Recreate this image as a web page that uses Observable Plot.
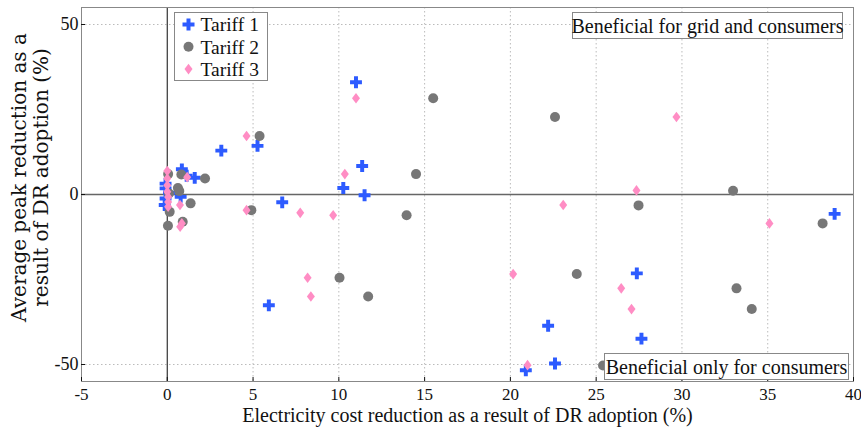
<!DOCTYPE html>
<html><head><meta charset="utf-8">
<script src="https://cdn.jsdelivr.net/npm/d3@7"></script>
<script src="https://cdn.jsdelivr.net/npm/@observablehq/plot@0.6"></script>
<style>
body{margin:0;background:#fff;}
#wrap{position:relative;width:861px;height:427px;font-family:'Liberation Serif','Times New Roman',serif;}
.box{position:absolute;background:#fff;border:1px solid #888;box-sizing:border-box;font-size:20px;color:#111;white-space:nowrap;line-height:1;display:flex;align-items:center;justify-content:center;}
</style></head><body><div id="wrap"></div>
<script>
const FONT = "'Liberation Serif','Times New Roman',serif";
const FONT_Y = "'DejaVu Serif','Liberation Serif',serif";
const xTicks = [-5, 0, 5, 10, 15, 20, 25, 30, 35, 40];
const yTicks = [-50, 0, 50];
const xGrid = [5, 10, 15, 20, 25, 30, 35];
const yGrid = [-50, 50];
const seriesNames = ["Tariff 1", "Tariff 2", "Tariff 3"];
const seriesColors = ["#2d5bff", "#777777", "#ff8dc4"];
const xLabel = "Electricity cost reduction as a result of DR adoption (%)";
const yLabel = "Average peak reduction as a\nresult of DR adoption (%)";
const notes = ["Beneficial for grid and consumers", "Beneficial only for consumers"];

// Tariff 1
const t1x = [0.85, 1.13, 1.6, 3.15, 5.26, 6.7, 11.0, 11.36, 10.26, 11.5, 5.92, 22.2, 20.9, 22.6, 27.37, 27.64, 38.9, -0.1, -0.1, -0.1, -0.15, 0.78, 0.1];
const t1y = [7.4, 5.5, 4.9, 12.9, 14.3, -2.3, 33.0, 8.4, 1.9, -0.2, -32.6, -38.6, -51.7, -49.7, -23.2, -42.4, -5.7, 3.2, 1.8, -1.2, -3.1, -0.7, 0.5];
// Tariff 2
const t2x = [0.82, 2.2, 0.62, 0.7, 0.14, 1.36, 0.04, 0.9, 5.38, 4.9, 15.5, 22.6, 14.5, 13.95, 10.04, 11.71, 23.87, 25.4, 27.47, 32.98, 38.2, 33.18, 34.07, 0.1, 0.05];
const t2y = [5.9, 4.7, 1.9, 1.0, -5.1, -2.6, -9.2, -8.0, 17.2, -4.6, 28.3, 22.8, 6.0, -6.1, -24.5, -30.0, -23.4, -50.3, -3.2, 1.1, -8.5, -27.6, -33.7, 0.3, 6.0];
// Tariff 3
const t3x = [0, 1.16, 0, 0, 0, 0.05, 0.05, 0.05, 0.74, 0.85, 0.75, 4.62, 4.62, 7.75, 9.67, 11.0, 10.35, 8.18, 8.37, 20.16, 21.0, 23.08, 26.46, 27.06, 29.68, 27.35, 35.1];
const t3y = [6.9, 5.1, 4.7, 2.7, 0.8, -0.7, -2.2, -3.6, -3.1, -8.5, -9.5, 17.2, -4.6, -5.4, -6.1, 28.3, 6.0, -24.5, -30.0, -23.4, -50.2, -3.1, -27.6, -33.7, 22.8, 1.2, -8.5];

const rows = (xs, ys) => xs.map((x, i) => ({x, y: ys[i]}));
const diamond = {draw(ctx, size) {
  const s = Math.sqrt(size) / 2, h = s * 1.2, w = s * 0.9;
  ctx.moveTo(0, -h); ctx.lineTo(w, 0); ctx.lineTo(0, h); ctx.lineTo(-w, 0); ctx.closePath();
}};

const plot = Plot.plot({
  width: 861, height: 427,
  marginLeft: 81, marginRight: 8, marginTop: 7, marginBottom: 46,
  x: {domain: [-5, 40]},
  y: {domain: [-55, 55]},
  style: {fontFamily: FONT, fontSize: "17px", color: "#111", background: "#fff"},
  marks: [
    Plot.ruleX(xGrid, {stroke: "#bbb", strokeDasharray: "1.5,2.5"}),
    Plot.ruleY(yGrid, {stroke: "#bbb", strokeDasharray: "1.5,2.5"}),
    Plot.ruleY([0], {stroke: "#666", strokeWidth: 1.6}),
    Plot.ruleX([0], {stroke: "#333", strokeWidth: 1.2}),
    Plot.frame({stroke: "#888"}),
    Plot.axisX({ticks: xTicks, tickSize: -4, tickPadding: 10, tickFormat: d => String(d), label: null, fontSize: 17}),
    Plot.text([xLabel], {frameAnchor: "bottom", textAnchor: "middle", lineAnchor: "middle", dy: 34, fontSize: 20}),
    Plot.axisY({ticks: yTicks, tickSize: -4, tickPadding: 7, tickFormat: d => String(d), label: null, fontSize: 18}),
    Plot.text([yLabel], {frameAnchor: "left", textAnchor: "middle", lineAnchor: "middle", rotate: -90, dx: -52, dy: -17, lineHeight: 1.1, fontSize: 20, fontFamily: FONT_Y}),
    Plot.dot(rows(t1x, t1y), {x: "x", y: "y", symbol: "cross", r: 5, fill: seriesColors[0], stroke: null}),
    Plot.dot(rows(t2x, t2y), {x: "x", y: "y", symbol: "circle", r: 5, fill: seriesColors[1], stroke: null}),
    Plot.dot(rows(t3x, t3y), {x: "x", y: "y", symbol: diamond, r: 5, fill: seriesColors[2], stroke: null})
  ]
});

const wrap = document.getElementById("wrap");
wrap.appendChild(plot);
const xs = plot.scale("x"), ys = plot.scale("y");
const frameRight = xs.apply(40), frameTop = ys.apply(55), frameBottom = ys.apply(-55), zeroX = xs.apply(0);

function addBox(text, l, t, w, h) {
  const d = document.createElement("div");
  d.className = "box";
  d.style.left = l + "px"; d.style.top = t + "px"; d.style.width = w + "px"; d.style.height = h + "px";
  d.textContent = text;
  wrap.appendChild(d);
}
addBox(notes[0], frameRight - 281, frameTop + 5, 271, 27);
addBox(notes[1], frameRight - 249, frameBottom - 28, 245, 27);

// legend
const lg = document.createElement("div");
lg.style.cssText = `position:absolute;left:${zeroX + 7}px;top:${frameTop + 5}px;width:94px;height:69px;border:1px solid #888;box-sizing:border-box;background:#fff;`;
const svgNS = "http://www.w3.org/2000/svg";
const lsvg = document.createElementNS(svgNS, "svg");
lsvg.setAttribute("width", 92); lsvg.setAttribute("height", 67);
lsvg.style.display = "block";
const syms = [d3.symbol(d3.symbolCross, 80), d3.symbol(d3.symbolCircle, Math.PI * 25), d3.symbol(diamond, Math.PI * 25)];
seriesNames.forEach((name, i) => {
  const cy = 11.5 + i * 22.3;
  const p = document.createElementNS(svgNS, "path");
  p.setAttribute("d", syms[i]());
  p.setAttribute("fill", seriesColors[i]);
  p.setAttribute("transform", `translate(13.5,${cy})`);
  lsvg.appendChild(p);
  const t = document.createElementNS(svgNS, "text");
  t.setAttribute("x", 25.5); t.setAttribute("y", cy);
  t.setAttribute("dy", "0.35em");
  t.setAttribute("font-family", FONT);
  t.setAttribute("font-size", 19.5);
  t.setAttribute("fill", "#111");
  t.textContent = name;
  lsvg.appendChild(t);
});
lg.appendChild(lsvg);
wrap.appendChild(lg);
</script></body></html>
